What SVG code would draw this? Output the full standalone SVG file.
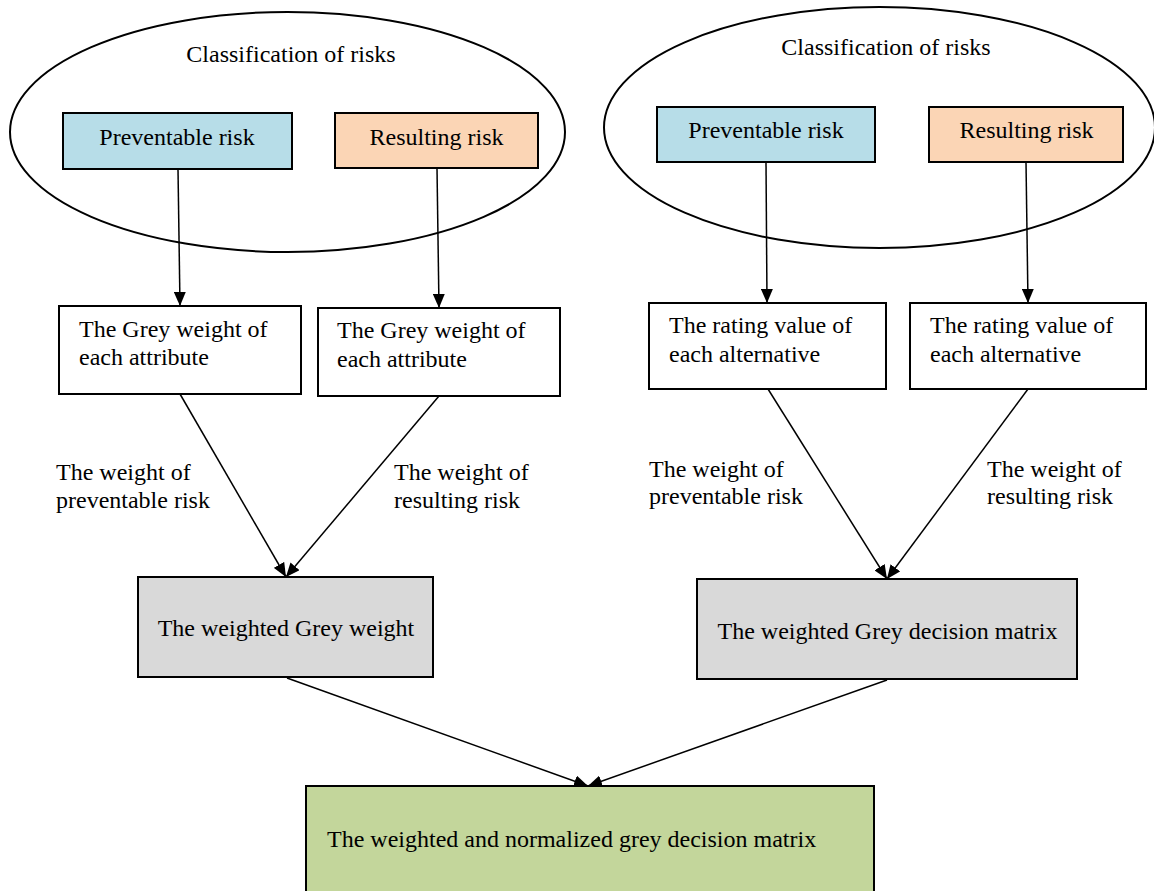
<svg xmlns="http://www.w3.org/2000/svg" width="1154" height="891" viewBox="0 0 1154 891">
<style>
text{font-family:"Liberation Serif","Times New Roman",serif;font-size:24px;fill:#000}
.c{text-anchor:middle}
.ell{fill:none;stroke:#000;stroke-width:2}
.box{stroke:#000;stroke-width:2}
.w{fill:#fff}
.blue{fill:#b7dde8}
.orange{fill:#fbd5b5}
.grey{fill:#d9d9d9}
.green{fill:#c3d69b}
.con line{stroke:#000;stroke-width:1.5;marker-end:url(#ah)}
</style>
<defs>
<marker id="ah" viewBox="0 0 14 12" refX="14" refY="6" markerWidth="14" markerHeight="12" markerUnits="userSpaceOnUse" orient="auto">
<path d="M0,0 L14,6 L0,12 z" fill="#000"/>
</marker>
</defs>
<rect width="1154" height="891" fill="#fff"/>
<g id="classL">
<ellipse class="ell" cx="287.5" cy="132" rx="277.5" ry="120"/>
<text x="291" y="62" class="c">Classification of risks</text>
</g>
<g id="classR">
<ellipse class="ell" cx="879.5" cy="127.5" rx="275.5" ry="120.5"/>
<text x="886" y="55" class="c">Classification of risks</text>
</g>
<g id="prevL"><rect class="box blue" x="63" y="113" width="229" height="56"/><text x="177" y="145" class="c">Preventable risk</text></g>
<g id="resL"><rect class="box orange" x="335" y="113" width="203" height="55"/><text x="436.5" y="145" class="c">Resulting risk</text></g>
<g id="prevR"><rect class="box blue" x="657" y="107" width="218" height="55"/><text x="766" y="138" class="c">Preventable risk</text></g>
<g id="resR"><rect class="box orange" x="929" y="107" width="194" height="55"/><text x="1026.5" y="138" class="c">Resulting risk</text></g>
<g id="gwL1"><rect class="box w" x="59" y="306" width="242" height="88"/><text x="79" y="337">The Grey weight of</text><text x="79" y="365">each attribute</text></g>
<g id="gwL2"><rect class="box w" x="318" y="308" width="242" height="88"/><text x="337" y="338">The Grey weight of</text><text x="337" y="367">each attribute</text></g>
<g id="rvR1"><rect class="box w" x="649" y="303" width="237" height="86"/><text x="669" y="333">The rating value of</text><text x="669" y="362">each alternative</text></g>
<g id="rvR2"><rect class="box w" x="910" y="303" width="236" height="86"/><text x="930" y="333">The rating value of</text><text x="930" y="362">each alternative</text></g>
<g id="wgw"><rect class="box grey" x="138" y="577" width="295" height="100"/><text x="286" y="636" class="c">The weighted Grey weight</text></g>
<g id="wgdm"><rect class="box grey" x="697" y="579" width="380" height="100"/><text x="887.5" y="639" class="c">The weighted Grey decision matrix</text></g>
<g id="wngdm"><rect class="box green" x="306" y="786" width="568" height="110"/><text x="327" y="847">The weighted and normalized grey decision matrix</text></g>
<g id="labels">
<text x="56" y="480">The weight of</text><text x="56" y="508">preventable risk</text>
<text x="394" y="480">The weight of</text><text x="394" y="508">resulting risk</text>
<text x="649" y="477">The weight of</text><text x="649" y="504">preventable risk</text>
<text x="987" y="477">The weight of</text><text x="987" y="504">resulting risk</text>
</g>
<g id="connectors" class="con">
<line x1="178" y1="169" x2="180" y2="306"/>
<line x1="437" y1="168" x2="439" y2="308"/>
<line x1="766" y1="162" x2="767" y2="303"/>
<line x1="1026" y1="162" x2="1028" y2="303"/>
<line x1="180" y1="394" x2="286" y2="577"/>
<line x1="439" y1="396" x2="286" y2="577"/>
<line x1="768" y1="389" x2="887" y2="579"/>
<line x1="1028" y1="389" x2="887" y2="579"/>
<line x1="287" y1="678" x2="588" y2="786"/>
<line x1="887" y1="680" x2="588" y2="786"/>
</g>
</svg>
